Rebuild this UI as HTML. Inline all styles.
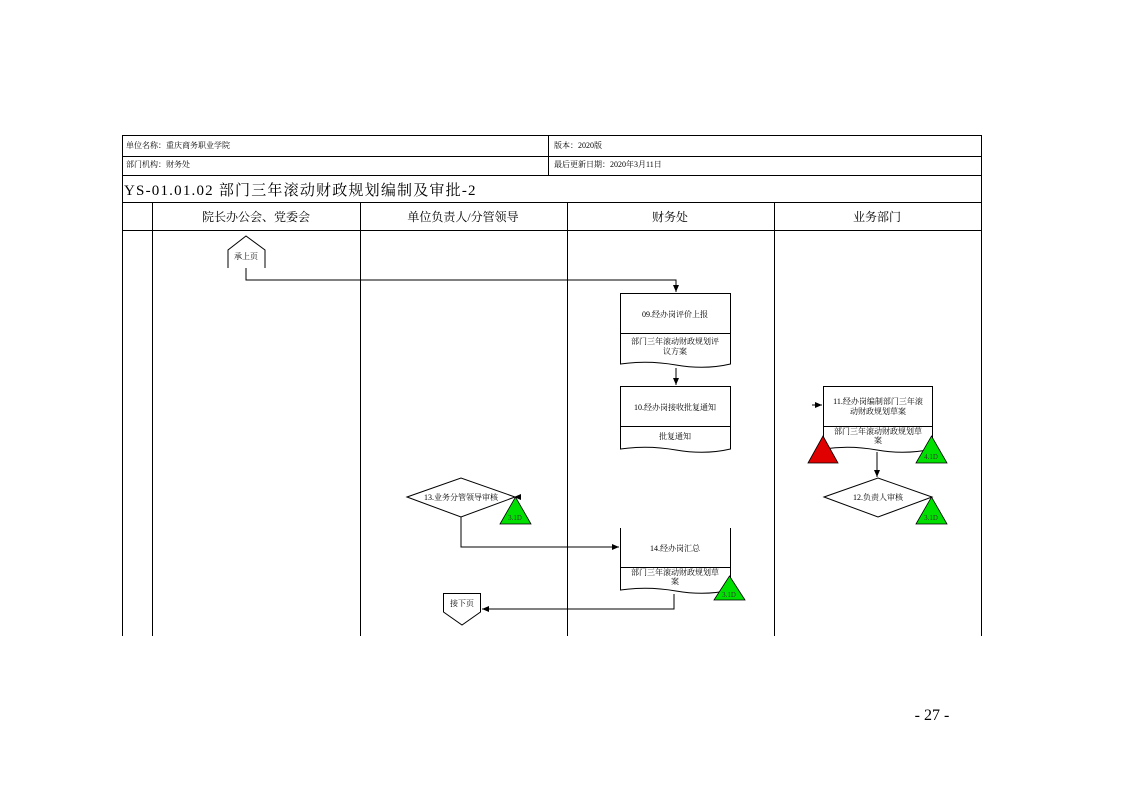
<!DOCTYPE html>
<html><head><meta charset="utf-8"><style>
body{margin:0;background:#fff;}
svg{display:block;font-family:"Liberation Serif","Noto Serif CJK SC","Noto Sans CJK SC",serif;}
</style></head><body>
<svg width="1123" height="794" viewBox="0 0 1123 794">
<defs><marker id="a" markerWidth="8" markerHeight="8" refX="7" refY="4" orient="auto" markerUnits="userSpaceOnUse"><path d="M0,1 L7,4 L0,7z" fill="#000"/></marker></defs>
<g stroke="#000" stroke-width="1" fill="none">
<rect x="122.5" y="135.5" width="859" height="67"/>
<line x1="122" y1="156.5" x2="982" y2="156.5"/>
<line x1="122" y1="175.5" x2="982" y2="175.5"/>
<line x1="548.5" y1="135" x2="548.5" y2="175"/>
<line x1="122" y1="230.5" x2="982" y2="230.5"/>
<line x1="122.5" y1="202" x2="122.5" y2="636"/>
<line x1="152.5" y1="202" x2="152.5" y2="636"/>
<line x1="360.5" y1="202" x2="360.5" y2="636"/>
<line x1="567.5" y1="202" x2="567.5" y2="636"/>
<line x1="774.5" y1="202" x2="774.5" y2="636"/>
<line x1="981.5" y1="202" x2="981.5" y2="636"/>
<path d="M228,268 V250 L246,236 L265,250 V268"/>
<path d="M246,268 V280 H676 V292" marker-end="url(#a)"/>
<rect x="620.5" y="293.5" width="110" height="40"/>
<path d="M620.5,333 V364 Q648,360 676,365 Q705,370 730.5,364 V333"/>
<path d="M676,368 V385" marker-end="url(#a)"/>
<rect x="620.5" y="386.5" width="110" height="40"/>
<path d="M620.5,426 V449 Q648,445 676,450 Q705,455 730.5,449 V426"/>
<rect x="823.5" y="386.5" width="109" height="40"/>
<path d="M823.5,426 V449 Q850,445 877,450 Q905,455 932.5,449 V426"/>
<path d="M812,405 H822" marker-end="url(#a)"/>
<path d="M877,452 V477" marker-end="url(#a)"/>
<path d="M824,497 L878,478 L932,497 L878,517 Z"/>
<path d="M407,497 L461,478 L515,497 L461,517 Z"/>
<path d="M520,497 H514" marker-end="url(#a)"/>
<path d="M461,517 V547 H619" marker-end="url(#a)"/>
<path d="M620.5,528 V567.5 H730.5 V528"/>
<path d="M620.5,567 V590 Q648,586 676,591 Q705,596 730.5,590 V567"/>
<path d="M674,594 V609 H482" marker-end="url(#a)"/>
<path d="M443.5,593.5 H480.5 V612 L462,625 L443.5,612 Z"/>
</g>
<g fill="#00e000" stroke="#000" stroke-width="0.8">
<path d="M916,463 L931.5,436 L947,463Z"/>
<path d="M916,524 L931.5,497 L947,524Z"/>
<path d="M500,524 L515.5,497 L531,524Z"/>
<path d="M714,600 L729.5,576 L745,600Z"/>
</g>
<path d="M808,463 L823,436 L838,463Z" fill="#e00000" stroke="#000" stroke-width="0.8"/>
<g font-size="8" fill="#000">
<text x="126" y="148">单位名称：重庆商务职业学院</text>
<text x="554" y="148">版本：2020版</text>
<text x="126" y="167">部门机构：财务处</text>
<text x="554" y="167">最后更新日期：2020年3月11日</text>
</g>
<text x="124" y="195" font-size="15" letter-spacing="1.2">YS-01.01.02 部门三年滚动财政规划编制及审批-2</text>
<g font-size="12" text-anchor="middle">
<text x="256" y="221">院长办公会、党委会</text>
<text x="463" y="221">单位负责人/分管领导</text>
<text x="670" y="221">财务处</text>
<text x="877" y="221">业务部门</text>
</g>
<g font-size="8" text-anchor="middle">
<text x="246" y="259">承上页</text>
<text x="675" y="317">09.经办岗评价上报</text>
<text x="675" y="344">部门三年滚动财政规划评</text>
<text x="675" y="354">议方案</text>
<text x="675" y="410">10.经办岗接收批复通知</text>
<text x="675" y="439">批复通知</text>
<text x="878" y="404">11.经办岗编制部门三年滚</text>
<text x="878" y="414">动财政规划草案</text>
<text x="878" y="434">部门三年滚动财政规划草</text>
<text x="878" y="443">案</text>
<text x="878" y="500">12.负责人审核</text>
<text x="461" y="500">13.业务分管领导审核</text>
<text x="675" y="551">14.经办岗汇总</text>
<text x="675" y="575">部门三年滚动财政规划草</text>
<text x="675" y="584">案</text>
<text x="462" y="606">接下页</text>
</g>
<g font-size="7" text-anchor="middle" fill="#333">
<text x="931" y="459">4.1D</text>
<text x="931" y="520">3.1D</text>
<text x="515" y="520">3.1D</text>
<text x="729" y="597">3.1D</text>
</g>
<text x="932" y="720" font-size="16" text-anchor="middle">- 27 -</text>
</svg>
</body></html>
